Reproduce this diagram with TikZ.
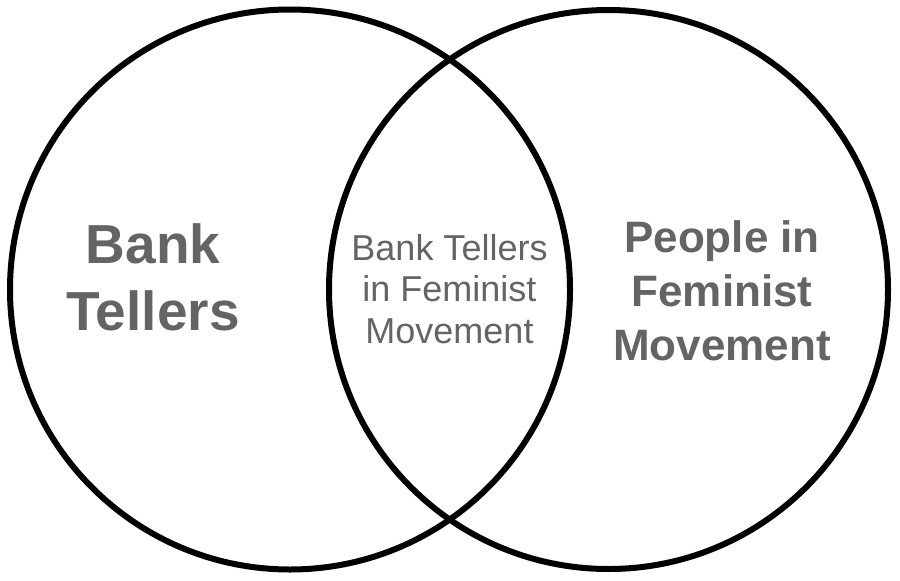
\documentclass[tikz,border=0pt]{standalone}
\usepackage{fontspec}
\setmainfont{Liberation Sans}
\definecolor{txtgray}{RGB}{100,100,100}
\begin{document}
\begin{tikzpicture}[x=1pt,y=-1pt,
  ring/.style={draw=black,line width=6pt},
  bigbold/.style={text=txtgray,font=\bfseries\fontsize{55}{67}\selectfont,align=center,anchor=base,inner sep=0pt},
  midbold/.style={text=txtgray,font=\bfseries\fontsize{44}{54}\selectfont,align=center,anchor=base,inner sep=0pt},
  midreg/.style={text=txtgray,font=\fontsize{36}{41.5}\selectfont,align=center,anchor=base,inner sep=0pt}]
\useasboundingbox (0,0) rectangle (900,581);
\node[ring,circle,minimum size=560pt,inner sep=0pt] (left) at (290,289.5) {};
\node[ring,circle,minimum size=559pt,inner sep=0pt] (right) at (608.5,289.5) {};
\node[bigbold] (bank) at (153,330) {Bank\\Tellers};
\node[midreg] (both) at (449.5,343) {Bank Tellers\\in Feminist\\Movement};
\node[midbold] (fem) at (722,360) {People in\\Feminist\\Movement};
\end{tikzpicture}
\end{document}
